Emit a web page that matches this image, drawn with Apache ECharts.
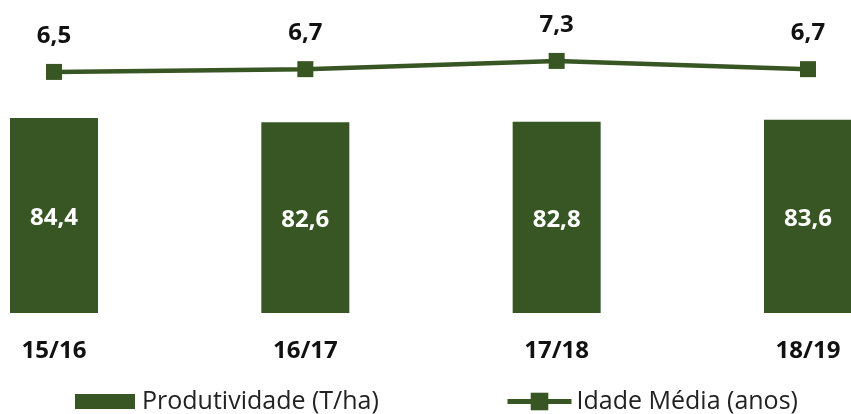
<!DOCTYPE html>
<html>
<head>
<meta charset="utf-8">
<script src="https://cdn.jsdelivr.net/npm/echarts@6/dist/echarts.min.js"></script>
<style>
html,body{margin:0;padding:0;background:#fff;}
#chart{width:851px;height:414px;}
</style>
</head>
<body>
<div id="chart"></div>
<script>
const categories = ['15/16', '16/17', '17/18', '18/19'];
const produtividade = [84.4, 82.6, 82.8, 83.6];
const idadeMedia = [6.5, 6.7, 7.3, 6.7];
const seriesNames = ['Produtividade (T/ha)', 'Idade Média (anos)'];

const GREEN = '#375623';
const FONT = 'Open Sans';
const fmt = v => String(v.toFixed(1)).replace('.', ',');

const chart = echarts.init(document.getElementById('chart'));
chart.setOption({
  animation: false,
  backgroundColor: '#ffffff',
  textStyle: { fontFamily: FONT },
  grid: { left: 54, right: 43, top: 35.75, bottom: 101, containLabel: false },
  legend: [
    {
      data: [seriesNames[0]],
      left: 70,
      top: 384,
      icon: 'rect',
      itemWidth: 60,
      itemHeight: 15,
      textStyle: { fontFamily: FONT, fontSize: 25, color: '#222', padding: [0, 0, 0, 2] }
    },
    {
      data: [seriesNames[1]],
      left: 500,
      top: 384,
      itemWidth: 64,
      itemHeight: 22,
      lineStyle: { width: 5 },
      textStyle: { fontFamily: FONT, fontSize: 25, color: '#222' }
    }
  ],
  xAxis: {
    type: 'category',
    data: categories,
    boundaryGap: false,
    axisLine: { show: false },
    axisTick: { show: false },
    axisLabel: { margin: 26, fontFamily: FONT, fontSize: 24, fontWeight: 'bold', color: '#111' }
  },
  yAxis: [
    { type: 'value', min: 0, max: 120, show: false, splitLine: { show: false } },
    { type: 'value', min: -11.03, max: 9.13, show: false, splitLine: { show: false } }
  ],
  series: [
    {
      name: seriesNames[0],
      type: 'bar',
      yAxisIndex: 0,
      data: produtividade,
      barWidth: 88,
      clip: false,
      itemStyle: { color: GREEN },
      label: {
        show: true,
        position: 'inside',
        offset: [0, 3],
        color: '#ffffff',
        fontFamily: FONT,
        fontSize: 24,
        fontWeight: 'bold',
        formatter: p => fmt(p.value)
      }
    },
    {
      name: seriesNames[1],
      type: 'line',
      yAxisIndex: 1,
      data: idadeMedia,
      clip: false,
      symbol: 'rect',
      symbolSize: 16,
      lineStyle: { color: GREEN, width: 4.5 },
      itemStyle: { color: GREEN },
      label: {
        show: true,
        position: 'top',
        distance: 16,
        color: '#111',
        fontFamily: FONT,
        fontSize: 24,
        fontWeight: 'bold',
        formatter: p => fmt(p.value)
      }
    }
  ]
});
</script>
</body>
</html>
